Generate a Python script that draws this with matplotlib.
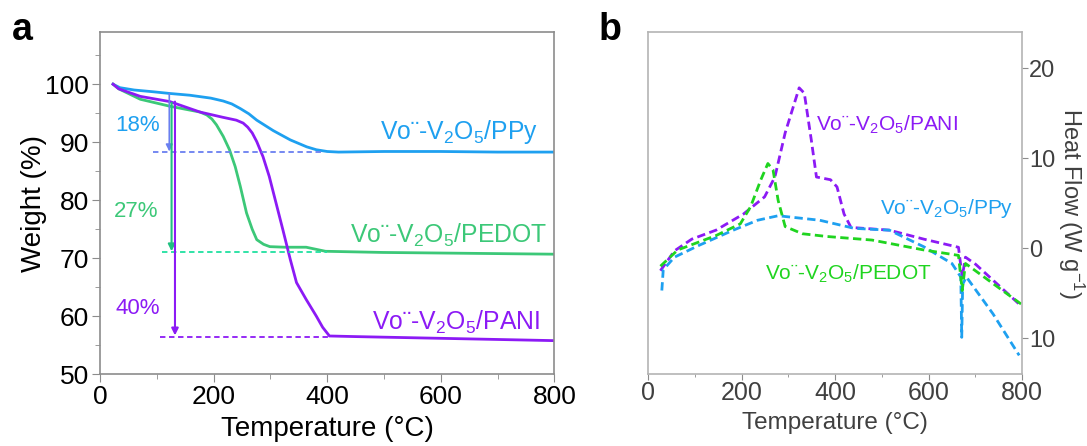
import numpy as np
import matplotlib.pyplot as plt
from matplotlib.ticker import MultipleLocator

plt.rcParams['font.family'] = ['Liberation Sans', 'DejaVu Sans']
plt.rcParams['mathtext.fontset'] = 'custom'
plt.rcParams['mathtext.rm'] = 'Liberation Sans'
plt.rcParams['mathtext.it'] = 'Liberation Sans:italic'

# ---- TGA data (panel a) ----
tga_ppy_t = [23, 35, 60, 93, 123, 158, 195, 217, 232, 247, 262, 276, 305, 335, 364, 381, 400, 420, 500, 600, 700, 800]
tga_ppy_w = [100, 99.4, 99.0, 98.7, 98.4, 98.1, 97.6, 97.1, 96.6, 95.8, 94.9, 93.8, 92.0, 90.4, 89.2, 88.7, 88.4, 88.3, 88.4, 88.4, 88.3, 88.3]

tga_pedot_t = [23, 33, 71, 123, 176, 188, 197, 205, 217, 228, 238, 247, 258, 268, 276, 288, 299, 326, 363, 397, 498, 599, 700, 800]
tga_pedot_w = [100, 99.2, 97.4, 96.2, 95.2, 94.7, 94.0, 93.0, 91.0, 88.7, 85.8, 82.4, 77.8, 75.0, 73.2, 72.4, 72.0, 71.9, 71.9, 71.2, 71.0, 70.9, 70.8, 70.7]

tga_pani_t = [23, 33, 71, 123, 176, 216, 240, 252, 260, 268, 276, 287, 298, 310, 322, 335, 346, 363, 381, 392, 404, 448, 498, 599, 700, 800]
tga_pani_w = [100, 99.2, 97.9, 97.0, 95.2, 94.3, 93.8, 93.3, 92.6, 91.6, 90.1, 87.5, 84.1, 79.5, 74.9, 69.8, 65.8, 62.9, 60.0, 58.1, 56.6, 56.5, 56.4, 56.2, 56.0, 55.8]

# ---- DSC data (panel b) ----
dsc_pani_t = [26, 56, 93, 145, 204, 249, 271, 293, 323, 334, 349, 360, 390, 404, 419, 434, 516, 590, 664, 672, 679, 701, 798]
dsc_pani_h = [-2.5, -0.3, 1.0, 2.0, 3.8, 5.7, 7.9, 12.8, 17.8, 17.2, 12.0, 7.9, 7.6, 6.8, 3.8, 2.3, 2.0, 1.0, 0.1, -3.2, -1.0, -1.8, -6.4]

dsc_pedot_t = [26, 63, 145, 197, 219, 241, 256, 267, 278, 293, 330, 382, 479, 590, 664, 672, 679, 798]
dsc_pedot_h = [-2.0, -0.2, 1.4, 2.7, 4.6, 7.6, 9.4, 8.7, 5.3, 2.4, 1.6, 1.3, 0.9, -0.2, -0.8, -4.7, -1.7, -6.2]

dsc_ppy_t = [29, 32, 56, 108, 182, 234, 278, 367, 441, 516, 590, 650, 669, 671, 673, 681, 738, 794]
dsc_ppy_h = [-4.7, -2.4, -1.0, 0.3, 2.0, 3.1, 3.6, 3.1, 2.2, 2.0, 0.15, -1.7, -3.2, -9.9, -4.0, -3.2, -7.3, -11.9]

c_ppy = '#1ea0f0'
c_pedot = '#3cc878'
c_pani = '#8c1af5'
c_pedot_b = '#1fd41f'
grey = '#8c8c8c'
label = 'Vo\u00a8-V$_2$O$_5$/'

fig = plt.figure(figsize=(10.87, 4.46), dpi=100)
ax1 = fig.add_axes([0.0920, 0.1608, 0.4180, 0.7675])
ax2 = fig.add_axes([0.5964, 0.1608, 0.3438, 0.7675])

# ---------- panel a ----------
ax1.plot(tga_ppy_t, tga_ppy_w, color=c_ppy, lw=2)
ax1.plot(tga_pedot_t, tga_pedot_w, color=c_pedot, lw=2)
ax1.plot(tga_pani_t, tga_pani_w, color=c_pani, lw=2)

ax1.hlines(88.3, 94, 395, colors='#6a7ff0', linestyles=(0, (3, 2)), lw=1.3)
ax1.hlines(71.0, 109, 400, colors='#20e0a0', linestyles=(0, (3, 2)), lw=1.3)
ax1.hlines(56.5, 106, 405, colors=c_pani, linestyles=(0, (3, 2)), lw=1.3)

ax1.annotate('', xy=(122, 88.4), xytext=(122, 98.4),
             arrowprops=dict(arrowstyle='-|>', color='#6a7ff0', lw=1.2, mutation_scale=10, shrinkA=0, shrinkB=0))
ax1.annotate('', xy=(126, 71.2), xytext=(126, 96.8),
             arrowprops=dict(arrowstyle='-|>', color='#20c080', lw=1.5, mutation_scale=10, shrinkA=0, shrinkB=0))
ax1.annotate('', xy=(132, 56.7), xytext=(132, 97.0),
             arrowprops=dict(arrowstyle='-|>', color=c_pani, lw=1.5, mutation_scale=10, shrinkA=0, shrinkB=0))

ax1.text(66, 92.8, '18%', color=c_ppy, fontsize=16, ha='center', va='center')
ax1.text(63, 78.0, '27%', color=c_pedot, fontsize=16, ha='center', va='center')
ax1.text(66, 61.4, '40%', color=c_pani, fontsize=16, ha='center', va='center')

ax1.text(771, 91.7, label + 'PPy', color=c_ppy, fontsize=17.8, ha='right', va='center')
ax1.text(787, 73.9, label + 'PEDOT', color=c_pedot, fontsize=17.8, ha='right', va='center')
ax1.text(775, 59.0, label + 'PANI', color=c_pani, fontsize=17.8, ha='right', va='center')

ax1.set_xlim(0, 800)
ax1.set_ylim(50, 109)
ax1.set_yticks([50, 60, 70, 80, 90, 100])
ax1.set_xticks([0, 200, 400, 600, 800])
ax1.xaxis.set_minor_locator(MultipleLocator(100))
ax1.yaxis.set_minor_locator(MultipleLocator(5))
ax1.tick_params(axis='both', which='major', labelsize=19, length=6, color=grey, direction='out', pad=2)
ax1.tick_params(axis='both', which='minor', length=3.5, color=grey, direction='out')
ax1.set_xlabel('Temperature (\u00b0C)', fontsize=20, labelpad=5)
ax1.set_ylabel('Weight (%)', fontsize=20)
ax1.yaxis.set_label_coords(-0.117, 0.5)
for s in ax1.spines.values():
    s.set_color(grey)
    s.set_linewidth(1.2)

# ---------- panel b ----------
dash = (0, (3, 1.6))
ax2.plot(dsc_pani_t, dsc_pani_h, color=c_pani, lw=2, ls=dash)
ax2.plot(dsc_ppy_t, dsc_ppy_h, color=c_ppy, lw=2, ls=dash)
ax2.plot(dsc_pedot_t, dsc_pedot_h, color=c_pedot_b, lw=2, ls=dash)

ax2.text(360, 13.7, label + 'PANI', color=c_pani, fontsize=15, ha='left', va='center')
ax2.text(497, 4.4, label + 'PPy', color=c_ppy, fontsize=15, ha='left', va='center')
ax2.text(249, -2.9, label + 'PEDOT', color=c_pedot_b, fontsize=15, ha='left', va='center')

ax2.set_xlim(0, 800)
ax2.set_ylim(-14, 24)
ax2.set_xticks([0, 200, 400, 600, 800])
ax2.xaxis.set_minor_locator(MultipleLocator(100))
ax2.set_yticks([-10, 0, 10, 20])
ax2.set_yticklabels(['10', '0', '10', '20'])
ax2.yaxis.tick_right()
ax2.yaxis.set_label_position('right')
ax2.tick_params(axis='x', which='major', labelsize=18, length=4, color=grey,
                labelcolor='#404040', direction='out', pad=1)
ax2.tick_params(axis='y', which='major', labelsize=17, length=4, color=grey,
                labelcolor='#404040', direction='out', pad=1)
ax2.tick_params(axis='x', which='minor', length=2.5, color=grey, direction='out')
ax2.set_xlabel('Temperature (\u00b0C)', fontsize=17.5, color='#404040', labelpad=5)
ax2.set_ylabel('Heat Flow (W g$^{-1}$)', fontsize=17, color='#404040', rotation=270, labelpad=22)
for s in ax2.spines.values():
    s.set_color('#b4b4b4')
    s.set_linewidth(1.2)

fig.text(0.011, 0.91, 'a', fontsize=27, fontweight='bold')
fig.text(0.551, 0.91, 'b', fontsize=27, fontweight='bold')

fig.savefig('out.png', dpi=100)
